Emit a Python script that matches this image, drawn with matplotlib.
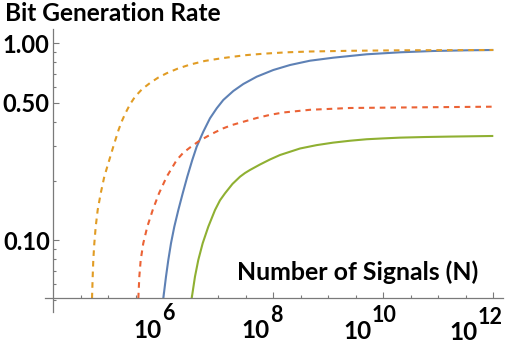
import numpy as np
import matplotlib
matplotlib.use("Agg")
import matplotlib.pyplot as plt
import matplotlib.ticker as mticker
import matplotlib.transforms as mtransforms

plt.rcParams['font.family'] = ['Lato', 'DejaVu Sans']

# ---- data (log10 of N, and rate) ----
logN_blue = [6.0, 6.049, 6.091, 6.140, 6.200, 6.273, 6.353, 6.436, 6.527, 6.607, 6.727,
             6.849, 6.971, 7.091, 7.273, 7.455, 7.698, 8.0, 8.304, 8.667, 9.091, 9.698,
             10.304, 10.909, 11.516, 12.0]
rate_blue = [0.0507, 0.0654, 0.0794, 0.0966, 0.1172, 0.1424, 0.1732, 0.2103, 0.2557, 0.2987,
             0.3558, 0.4163, 0.4677, 0.5156, 0.5726, 0.6215, 0.6768, 0.7319, 0.7759, 0.8160,
             0.8452, 0.8795, 0.9001, 0.9140, 0.9214, 0.9248]

logN_orange = [4.704, 4.716, 4.727, 4.746, 4.771, 4.807, 4.862, 4.927, 5.018, 5.100, 5.186,
               5.240, 5.304, 5.395, 5.486, 5.613, 5.758, 5.904, 6.062, 6.258, 6.486, 6.758,
               7.067, 7.486, 7.849, 8.249, 8.667, 9.395, 10.304, 12.0]
rate_orange = [0.0507, 0.0654, 0.0794, 0.0966, 0.1172, 0.1425, 0.1732, 0.2103, 0.2557, 0.3046,
               0.3630, 0.3986, 0.4376, 0.4902, 0.5357, 0.5848, 0.6287, 0.6689, 0.7050, 0.7430,
               0.7798, 0.8140, 0.8402, 0.8701, 0.8866, 0.9001, 0.9086, 0.9161, 0.9214, 0.9248]

logN_green = [6.516, 6.576, 6.636, 6.716, 6.818, 6.940, 7.031, 7.122, 7.258, 7.395, 7.486,
              7.576, 7.758, 7.940, 8.122, 8.486, 8.786, 9.086, 9.395, 9.698, 9.995, 10.304,
              10.758, 11.213, 12.0]
rate_green = [0.0507, 0.0654, 0.0794, 0.0966, 0.1172, 0.1424, 0.1596, 0.1732, 0.1933, 0.2103,
              0.2196, 0.2275, 0.2425, 0.2572, 0.2710, 0.2924, 0.3041, 0.3131, 0.3202, 0.3258,
              0.3290, 0.3320, 0.3344, 0.3361, 0.3385]

logN_red = [5.546, 5.564, 5.589, 5.636, 5.709, 5.807, 5.922, 6.062, 6.244, 6.364, 6.486,
            6.636, 6.789, 6.940, 7.091, 7.240, 7.395, 7.698, 7.940, 8.182, 8.667, 9.395,
            10.304, 12.0]
rate_red = [0.0507, 0.0654, 0.0794, 0.0966, 0.1172, 0.1424, 0.1732, 0.2103, 0.2557, 0.2784,
            0.2959, 0.3170, 0.3357, 0.3534, 0.3702, 0.3840, 0.3954, 0.4176, 0.4333, 0.4454,
            0.4597, 0.4695, 0.4722, 0.4767]

y_major = [0.10, 0.50, 1.00]
y_major_labels = ["0.10", "0.50", "1.00"]
y_minor = [0.05, 0.06, 0.07, 0.08, 0.09, 0.2, 0.3, 0.4, 0.6, 0.7, 0.8, 0.9]
x_major_exp = [6, 8, 10, 12]
x_minor_exp = [4.5, 5, 5.5, 6.5, 7, 7.5, 8.5, 9, 9.5, 10.5, 11, 11.5]

title = "Bit Generation Rate"
xlabel = "Number of Signals (N)"

C_BLUE = "#5E81B5"
C_ORANGE = "#E19C24"
C_GREEN = "#8FB032"
C_RED = "#EB6235"
AX_COL = "#7a7a7a"

W, H = 505, 346
fig = plt.figure(figsize=(W / 100, H / 100), dpi=100)
ax = fig.add_axes([45 / W, 1 - 312 / H, (502.7 - 45) / W, (312 - 29) / H])

ax.set_xscale('log')
ax.set_yscale('log')
ax.set_xlim(10 ** 3.849, 10 ** 12.171)
ax.set_ylim(10 ** -1.364, 10 ** 0.0726)

lw = 1.5
ax.plot(10 ** np.array(logN_blue), rate_blue, color=C_BLUE, lw=lw,
        solid_capstyle='butt', solid_joinstyle='round')
ax.plot(10 ** np.array(logN_orange), rate_orange, color=C_ORANGE, lw=lw, dashes=(2.7, 2.4))
ax.plot(10 ** np.array(logN_green), rate_green, color=C_GREEN, lw=lw,
        solid_capstyle='butt', solid_joinstyle='round')
ax.plot(10 ** np.array(logN_red), rate_red, color=C_RED, lw=lw, dashes=(2.7, 2.4))

for s in ['top', 'right']:
    ax.spines[s].set_visible(False)
ax.spines['left'].set_position(('data', 1e4))
ax.spines['bottom'].set_position(('data', 0.0507))
for s in ['left', 'bottom']:
    ax.spines[s].set_color(AX_COL)
    ax.spines[s].set_linewidth(0.9)

ax.yaxis.set_major_locator(mticker.FixedLocator(y_major))
ax.yaxis.set_major_formatter(mticker.FixedFormatter(y_major_labels))
ax.yaxis.set_minor_locator(mticker.FixedLocator(y_minor))
ax.yaxis.set_minor_formatter(mticker.NullFormatter())
ax.xaxis.set_major_locator(mticker.FixedLocator([10.0 ** e for e in x_major_exp]))
ax.xaxis.set_major_formatter(mticker.NullFormatter())
ax.xaxis.set_minor_locator(mticker.FixedLocator([10.0 ** e for e in x_minor_exp]))
ax.xaxis.set_minor_formatter(mticker.NullFormatter())

ax.tick_params(which='major', direction='in', length=4, width=0.8, color=AX_COL)
ax.tick_params(which='minor', direction='in', length=2.3, width=0.8, color=AX_COL)
ax.tick_params(axis='y', which='major', pad=2.5, labelsize=17)
for t in ax.get_yticklabels():
    t.set_fontweight('bold')

# x tick labels: base "10" with a large superscript exponent
trans = mtransforms.blended_transform_factory(ax.transData, fig.transFigure)
base_dx = [-1.6, -3.3, -11.3, -15.3]
base_y = [338.3, 338.3, 339.0, 340.0]
exp_y = [320.0, 322.5, 322.5, 323.5]
for e, dx, by, ey in zip(x_major_exp, base_dx, base_y, exp_y):
    tr = mtransforms.offset_copy(trans, fig=fig, x=dx * 0.72, y=0, units='points')
    ax.text(10.0 ** e, 1 - by / H, "10", transform=tr, ha='right', va='baseline',
            fontsize=17.5, fontweight='bold', clip_on=False)
    ax.text(10.0 ** e, 1 - ey / H, str(e), transform=tr, ha='left', va='baseline',
            fontsize=15.5, fontweight='bold', clip_on=False)

fig.text(5 / W, 1 - 20.7 / H, title, ha='left', va='baseline', fontsize=17.6, fontweight='bold')
fig.text(236.7 / W, 1 - 280 / H, xlabel, ha='left', va='baseline', fontsize=17.9, fontweight='bold')

fig.savefig("out.png", dpi=100)
